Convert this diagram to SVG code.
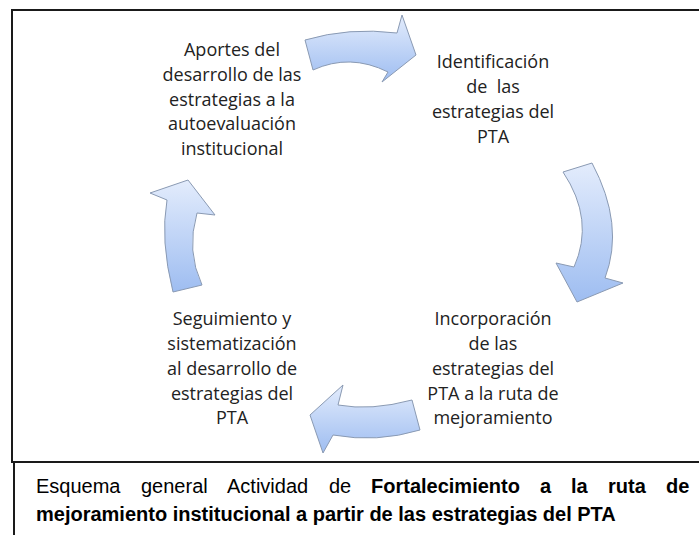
<svg xmlns="http://www.w3.org/2000/svg" width="699" height="535" viewBox="0 0 699 535">
<defs>
<linearGradient id="g" x1="0" y1="0" x2="0" y2="1">
<stop offset="0" stop-color="#e3ecfc"/>
<stop offset="1" stop-color="#9ebdf1"/>
</linearGradient>
<style>
.lbl{font-family:"Open Sans","Noto Sans",sans-serif;font-size:18px;fill:#222;text-anchor:middle}
.arr{fill:url(#g);stroke:#8a9ab3;stroke-width:1;stroke-linejoin:miter}
.cap{font-family:"Liberation Sans",Arial,sans-serif;font-size:20px;fill:#000}
.b{font-weight:bold}
.frame{fill:none;stroke:#1a1a1a;stroke-width:2}
</style>
</defs>
<rect width="699" height="535" fill="#fff"/>
<g id="frame">
<path class="frame" d="M700,10 H12 V462"/>
<path class="frame" d="M11,462 H700"/>
<path class="frame" d="M14,462 V535"/>
</g>
<g id="connectors">
<path class="arr" d="M305,40 Q349,27 397,33 L402,15 L416,55 L382,82 L388,72 Q350,53 313,70 Z"/>
<path class="arr" d="M592,163 Q625,225 605,278 L623,283 L577,302 L556,263 L574,267 Q595,220 563,172 Z"/>
<path class="arr" d="M412,400 Q371,411 338,405 L343,385 L310,415 L323,453 L333,435 Q377,443 420,430 Z"/>
<path class="arr" d="M202,285 Q186,251 197,213 L215,215 L188,180 L150,193 L167,200 Q160,240 173,292 Z"/>
</g>
<g id="n1">
<text class="lbl" x="232" y="56">Aportes del</text>
<text class="lbl" x="232" y="81">desarrollo de las</text>
<text class="lbl" x="232" y="106">estrategias a la</text>
<text class="lbl" x="232" y="130">autoevaluación</text>
<text class="lbl" x="232" y="155">institucional</text>
</g>
<g id="n2">
<text class="lbl" x="493" y="68">Identificación</text>
<text class="lbl" x="493" y="93" xml:space="preserve">de  las</text>
<text class="lbl" x="493" y="118">estrategias del</text>
<text class="lbl" x="493" y="143">PTA</text>
</g>
<g id="n3">
<text class="lbl" x="493" y="325">Incorporación</text>
<text class="lbl" x="493" y="350">de las</text>
<text class="lbl" x="493" y="375">estrategias del</text>
<text class="lbl" x="493" y="400">PTA a la ruta de</text>
<text class="lbl" x="493" y="424">mejoramiento</text>
</g>
<g id="n4">
<text class="lbl" x="232" y="325">Seguimiento y</text>
<text class="lbl" x="232" y="350">sistematización</text>
<text class="lbl" x="232" y="375">al desarrollo de</text>
<text class="lbl" x="232" y="400">estrategias del</text>
<text class="lbl" x="232" y="424">PTA</text>
</g>
<g id="caption">
<text class="cap" y="493"><tspan x="36">Esquema</tspan><tspan x="141">general</tspan><tspan x="227">Actividad</tspan><tspan x="329">de</tspan><tspan class="b" x="371">Fortalecimiento</tspan><tspan class="b" x="540">a</tspan><tspan class="b" x="571">la</tspan><tspan class="b" x="608">ruta</tspan><tspan class="b" x="666">de</tspan></text>
<text class="cap b" x="36" y="521">mejoramiento institucional a partir de las estrategias del PTA</text>
</g>
</svg>
